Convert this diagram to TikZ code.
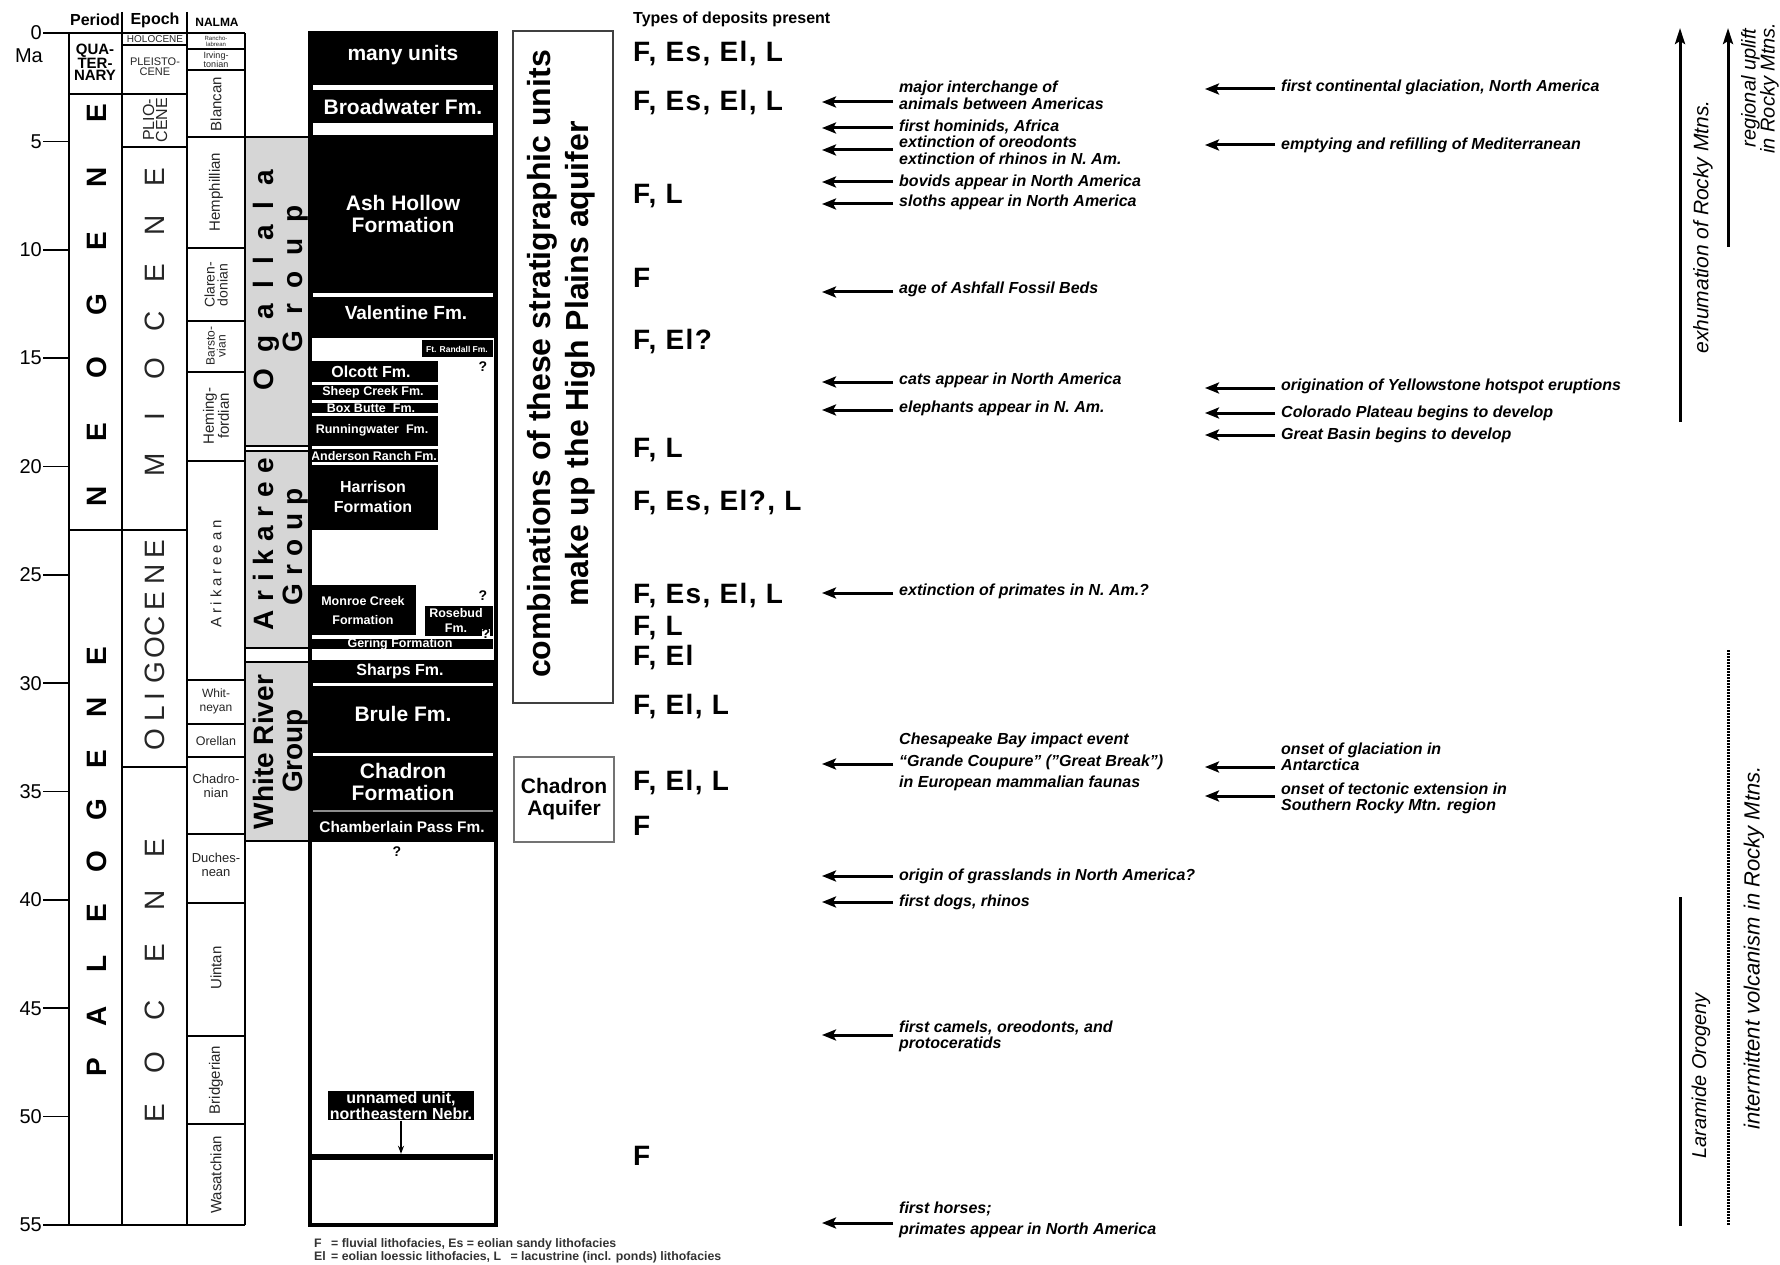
\documentclass[tikz,border=0pt]{standalone}
\usepackage{fontspec}
\setmainfont{Liberation Sans}
\usetikzlibrary{arrows.meta}
\newcommand\fs[2]{\fontsize{#1}{#2}\selectfont}
\begin{document}
\begin{tikzpicture}[x=1pt,y=-1pt,
  every node/.style={inner sep=0pt},
  grid/.style={line width=1.6pt},
  grp/.style={line width=1.6pt, fill=black!16},
  sm/.style={text=black!85, align=center},
  nal/.style={sm, rotate=90, font=\fs{15}{14}},
  per/.style={rotate=90, font=\fs{28}{28}\bfseries},
  epo/.style={rotate=90, font=\fs{28}{28}, text=black!85},
  wl/.style={text=white, align=center},
  qm/.style={font=\fs{14}{14}\bfseries},
  dep/.style={anchor=west, font=\fs{28}{28}\bfseries\addfontfeature{LetterSpace=5}},
  evt/.style={anchor=west, align=left, font=\fs{16}{17}\bfseries\itshape},
  earr/.style={line width=3pt, -{Stealth[length=14pt,width=11pt,inset=3pt]}},
  varr/.style={line width=3pt, -{Stealth[length=16pt,width=10pt,inset=3pt]}},
  vtxt/.style={rotate=90, align=center, font=\fs{21}{20}\itshape},
]
\fill[white] (0,0) rectangle (1780,1265);
\useasboundingbox (0,0) rectangle (1780,1265);

% ---------- headers ----------
\node[font=\fs{16}{16}\bfseries] (hP) at (95,20) {Period};
\node[font=\fs{16}{16}\bfseries] (hE) at (155,20) {Epoch};
\node[font=\fs{12}{12}\bfseries] (hN) at (217,22) {NALMA};
\node[font=\fs{16}{16}\bfseries, anchor=west] (hD) at (633,19) {Types of deposits present};

% ---------- time axis ----------
\foreach \m in {0,5,...,55} {
  \node[anchor=east, font=\fs{20}{20}] (tk\m) at (42,{33+21.673*\m}) {\m};
  \draw[grid] (43,{33+21.673*\m}) -- (69,{33+21.673*\m});
}
\node[anchor=east, font=\fs{20}{20}] (ma) at (43,56) {Ma};

% ---------- column grid ----------
\draw[grid] (43,33) -- (245,33);
\draw[grid] (69,1225) -- (245,1225);
\draw[grid] (69,33) -- (69,1225);
\draw[grid] (122,12) -- (122,1225);
\draw[grid] (187,12) -- (187,1225);
\draw[grid] (245,33) -- (245,1225);
\foreach \yy in {94,530} \draw[grid] (69,\yy) -- (122,\yy);
\foreach \yy in {45,94,147,530,767} \draw[grid] (122,\yy) -- (187,\yy);
\foreach \yy in {49,70,137,248,321,372,461,680,724,757,834,903,1036,1124} \draw[grid] (187,\yy) -- (245,\yy);

% ---------- periods ----------
\node[font=\fs{15}{12}\bfseries, align=center] (quat) at (95,62) {QUA-\\TER-\\NARY};
\foreach \ch/\yy [count=\i] in {N/496,E/432,O/368,G/305,E/241,N/177,E/113}
  \node[per] (neo\i) at (97,\yy) {\ch};
\foreach \ch/\yy [count=\i] in {P/1067,A/1016,L/964,E/913,O/862,G/810,E/759,N/707,E/656}
  \node[per] (pal\i) at (97,\yy) {\ch};

% ---------- epochs ----------
\node[sm, font=\fs{10}{10}] (holo) at (155,39.5) {HOLOCENE};
\node[sm, font=\fs{11}{10}] (pleis) at (155,67) {PLEISTO-\\CENE};
\node[sm, rotate=90, font=\fs{16}{13}] (plio) at (155,120) {PLIO-\\CENE};
\foreach \ch/\yy [count=\i] in {M/465,I/417,O/369,C/321,E/273,N/225,E/177}
  \node[epo] (mio\i) at (155,\yy) {\ch};
\foreach \ch/\yy [count=\i] in {O/740,L/714,I/697,G/673,O/648,C/626,E/601,N/574,E/549}
  \node[epo] (oli\i) at (155,\yy) {\ch};
\foreach \ch/\yy [count=\i] in {E/1113,O/1063,C/1010,E/953,N/900,E/848}
  \node[epo] (eoc\i) at (155,\yy) {\ch};

% ---------- NALMA ----------
\node[sm, font=\fs{6}{6}] (ran) at (216,41) {Rancho-\\labrean};
\node[sm, font=\fs{9}{9}] (irv) at (216,59.5) {Irving-\\tonian};
\node[nal] (bla) at (216,104) {Blancan};
\node[nal] (hem) at (216,192) {Hemphillian};
\node[nal, font=\fs{14}{13}] (cla) at (216,285) {Claren-\\donian};
\node[nal, font=\fs{12}{11}] (bars) at (216,346) {Barsto-\\vian};
\node[nal, font=\fs{15}{13}] (hmg) at (216,416) {Heming-\\fordian};
\node[nal, font=\fs{15}{15}\addfontfeature{LetterSpace=26}] (ari) at (216,574) {Arikareean};
\node[sm, font=\fs{12}{14}] (whi) at (216,701) {Whit-\\neyan};
\node[sm, font=\fs{12.5}{13}] (ore) at (216,741) {Orellan};
\node[sm, font=\fs{13}{14}] (chn) at (216,786) {Chadro-\\nian};
\node[sm, font=\fs{13}{14}] (duc) at (216,865) {Duches-\\nean};
\node[nal] (uin) at (216,968) {Uintan};
\node[nal] (bri) at (216,1080) {Bridgerian};
\node[nal] (was) at (216,1175) {Wasatchian};

% ---------- groups ----------
\draw[grp] (245,137) rectangle (310,446);
\draw[grp] (245,451) rectangle (310,648);
\draw[grp] (245,662) rectangle (310,841);
\node[rotate=90, font=\fs{28}{28}\bfseries\addfontfeature{LetterSpace=57}] (ogA) at (266,280) {Ogallala};
\node[rotate=90, font=\fs{28}{28}\bfseries\addfontfeature{LetterSpace=56}] (ogB) at (296,279) {Group};
\node[rotate=90, font=\fs{28}{28}\bfseries\addfontfeature{LetterSpace=31}] (arA) at (263,544) {Arikaree};
\node[rotate=90, font=\fs{28}{28}\bfseries\addfontfeature{LetterSpace=30}] (arB) at (296,547) {Group};
\node[rotate=90, font=\fs{28}{28}\bfseries] (wrA) at (263,752) {White River};
\node[rotate=90, font=\fs{28}{28}\bfseries] (wrB) at (296,751) {Group};

% ---------- formations ----------
\fill (310,33) rectangle (496,338);
\fill[white] (313,85) rectangle (493,90);
\fill[white] (313,123) rectangle (493,135);
\fill[white] (313,293) rectangle (493,297);
\fill (422,340) rectangle (493,357);
\fill (312,361) rectangle (438,382);
\fill (312,385) rectangle (438,400);
\fill (312,403) rectangle (438,413);
\fill (312,416) rectangle (438,446);
\fill (312,449) rectangle (438,462);
\fill (312,465) rectangle (438,530);
\fill (312,585) rectangle (416,635);
\fill (425,606) rectangle (493,636);
\fill (312,639) rectangle (493,649);
\fill (310,660) rectangle (496,842);
\fill[white] (313,683) rectangle (493,686);
\fill[white] (313,753) rectangle (493,755.5);
\fill[black!45] (313,810) rectangle (493,812);

\node[wl, font=\fs{21}{21}\bfseries] (f1) at (403,55) {many units};
\node[wl, font=\fs{21}{21}\bfseries] (f2) at (403,107) {Broadwater Fm.};
\node[wl, font=\fs{21}{22}\bfseries] (f3) at (403,214) {Ash Hollow\\Formation};
\node[wl, font=\fs{19}{19}\bfseries] (f4) at (406,313) {Valentine Fm.};
\node[wl, font=\fs{8.5}{8.5}\bfseries] (f5) at (457,349) {Ft. Randall Fm.};
\node[wl, font=\fs{16}{16}\bfseries] (f6) at (371,372) {Olcott Fm.};
\node[wl, font=\fs{12.5}{12.5}\bfseries] (f7) at (373,392.5) {Sheep Creek Fm.};
\node[wl, font=\fs{12.5}{12.5}\bfseries] (f8) at (371,408) {Box Butte\ \ Fm.};
\node[wl, font=\fs{12.5}{12.5}\bfseries] (f9) at (372,430) {Runningwater\ \ Fm.};
\node[wl, font=\fs{12.5}{12.5}\bfseries] (f10) at (374,456) {Anderson Ranch Fm.};
\node[wl, font=\fs{16}{20}\bfseries] (f11) at (373,497) {Harrison\\Formation};
\node[wl, font=\fs{12.5}{19}\bfseries] (f12) at (363,611) {Monroe Creek\\Formation};
\node[wl, font=\fs{12.5}{15}\bfseries] (f13) at (456,620) {Rosebud\\Fm.};
\node[wl, font=\fs{12.5}{12.5}\bfseries] (f14) at (400,644) {Gering Formation};
\node[wl, font=\fs{16}{16}\bfseries] (f15) at (400,671) {Sharps Fm.};
\node[wl, font=\fs{21}{21}\bfseries] (f16) at (403,714) {Brule Fm.};
\node[wl, font=\fs{21}{22}\bfseries] (f17) at (403,782) {Chadron\\Formation};
\node[wl, font=\fs{15.4}{15.4}\bfseries] (f18) at (402,827) {Chamberlain Pass Fm.};

\node[fill=black, wl, font=\fs{16}{16}\bfseries, inner xsep=1.5pt, inner ysep=1pt] (unn) at (401,1105.5) {unnamed unit,\\northeastern Nebr.};
\node[fill=black, minimum width=181pt, minimum height=6pt] (nbar) at (402.5,1157) {};
\draw[line width=1.5pt, -{Stealth[length=8pt,width=6pt]}] (unn.south) -- (unn.south |- nbar.north);

\draw[line width=3.5pt] (310,33) rectangle (496,1225);

\node[qm] (q1) at (483,331) {?};
\node[qm] (q2) at (483,367) {?};
\node[qm] (q3) at (483,596) {?};
\node[qm, fill=white, inner sep=0.2pt] (q4) at (486,634) {?};
\node[qm] (q5) at (397,852) {?};

% ---------- aquifers ----------
\draw[line width=1.8pt, draw=black!75] (513,31) rectangle (613,703);
\node[rotate=90, align=center, font=\fs{32}{38}\bfseries] (hptxt) at (561,364) {combinations of these stratigraphic units\\make up the High Plains aquifer};
\draw[line width=1.5pt, draw=black!55] (514,757) rectangle (614,842);
\node[align=center, font=\fs{21}{22}\bfseries] (chaq) at (564,799) {Chadron\\Aquifer};

% ---------- deposits ----------
\foreach \t/\yy [count=\i] in {{F, Es, El, L}/54, {F, Es, El, L}/103, {F, L}/196, F/278, {F, El?}/342, {F, L}/450, {F, Es, El?, L}/503, {F, Es, El, L}/596, {F, L}/628, {F, El}/658, {F, El, L}/707, {F, El, L}/783, F/826, F/1156}
  \node[dep] (dp\i) at (633,\yy) {\t};

% ---------- events (left) ----------
\node[evt] (e1) at (899,95.5) {major interchange of\\animals between Americas};
\node[evt] (e2) at (899,127) {first hominids, Africa};
\node[evt] (e3) at (899,150.5) {extinction of oreodonts\\extinction of rhinos in N. Am.};
\node[evt] (e4) at (899,182) {bovids appear in North America};
\node[evt] (e5) at (899,202) {sloths appear in North America};
\node[evt] (e6) at (899,289) {age of Ashfall Fossil Beds};
\node[evt] (e7) at (899,380) {cats appear in North America};
\node[evt] (e8) at (899,408) {elephants appear in N. Am.};
\node[evt] (e9) at (899,591) {extinction of primates in N. Am.?};
\node[evt, font=\fs{16}{21.5}\bfseries\itshape] (e10) at (899,762) {Chesapeake Bay impact event\\“Grande Coupure” (”Great Break”)\\in European mammalian faunas};
\node[evt] (e11) at (899,876) {origin of grasslands in North America?};
\node[evt] (e12) at (899,902) {first dogs, rhinos};
\node[evt, font=\fs{16}{16}\bfseries\itshape] (e13) at (899,1036) {first camels, oreodonts, and\\protoceratids};
\node[evt, font=\fs{16}{21}\bfseries\itshape] (e14) at (899,1220) {first horses;\\primates appear in North America};
\foreach \yy [count=\i] in {102,128,150,182,204,292,382,410,593,764,876,902,1035,1223} {
  \coordinate (lt\i) at (893,\yy);
  \coordinate (lh\i) at (822,\yy);
  \draw[earr] (lt\i) -- (lh\i);
}

% ---------- events (right) ----------
\node[evt] (r1) at (1281,87) {first continental glaciation, North America};
\node[evt] (r2) at (1281,145) {emptying and refilling of Mediterranean};
\node[evt] (r3) at (1281,386) {origination of Yellowstone hotspot eruptions};
\node[evt] (r4) at (1281,413) {Colorado Plateau begins to develop};
\node[evt] (r5) at (1281,435) {Great Basin begins to develop};
\node[evt, font=\fs{16}{16}\bfseries\itshape] (r6) at (1281,757) {onset of glaciation in\\Antarctica};
\node[evt, font=\fs{16}{16}\bfseries\itshape] (r7) at (1281,798) {onset of tectonic extension in\\Southern Rocky Mtn. region};
\foreach \yy [count=\i] in {89,145,388,413,435,767,796} {
  \coordinate (rt\i) at (1275,\yy);
  \coordinate (rh\i) at (1205,\yy);
  \draw[earr] (rt\i) -- (rh\i);
}

% ---------- tectonic bars ----------
\coordinate (exB) at (1680,422); \coordinate (exT) at (1680,28);
\draw[varr] (exB) -- (exT);
\node[vtxt] (ext) at (1703,227) {exhumation of Rocky Mtns.};
\coordinate (upB) at (1728,247); \coordinate (upT) at (1728,28);
\draw[varr] (upB) -- (upT);
\node[vtxt, font=\fs{20}{19}\itshape] (upt) at (1760,88) {regional uplift\\in Rocky Mtns.};
\coordinate (laT) at (1680,897); \coordinate (laB) at (1680,1226);
\draw[line width=3pt] (laT) -- (laB);
\node[vtxt, font=\fs{20}{20}\itshape] (lar) at (1701,1076) {Laramide Orogeny};
\coordinate (voT) at (1728,650); \coordinate (voB) at (1728,1226);
\draw[line width=3pt, dash pattern=on 1.5pt off 1.5pt] (voT) -- (voB);
\node[vtxt, font=\fs{22}{22}\itshape] (vol) at (1754,948) {intermittent volcanism in Rocky Mtns.};

% ---------- legend ----------
\node[anchor=west, font=\fs{12.3}{13}\bfseries, text=black!80] (lg1) at (314,1244) {\makebox[17pt][l]{F}= fluvial lithofacies, Es = eolian sandy lithofacies};
\node[anchor=west, font=\fs{12.3}{13}\bfseries, text=black!80] (lg2) at (314,1257) {\makebox[17pt][l]{El}= eolian loessic lithofacies, \makebox[17pt][l]{L}= lacustrine (incl. ponds) lithofacies};
\end{tikzpicture}
\end{document}
